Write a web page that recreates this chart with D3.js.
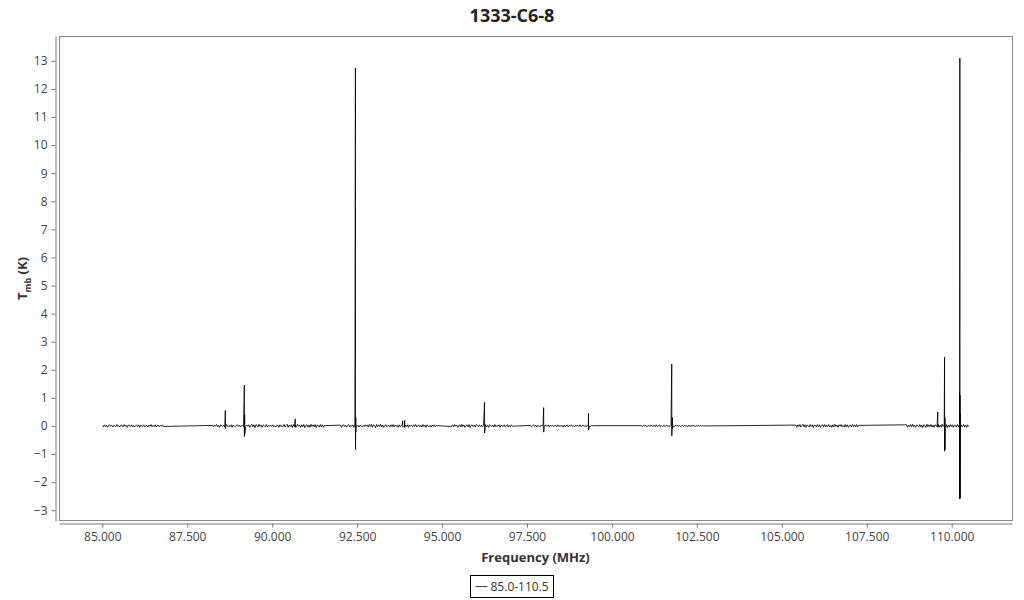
<!DOCTYPE html>
<html>
<head>
<meta charset="utf-8">
<script src="https://cdn.jsdelivr.net/npm/d3@7"></script>
<style>
  body { margin: 0; background: #fff; }
  text { font-family: "Open Sans", sans-serif; }
</style>
</head>
<body>
<div id="chart"></div>
<script>
// observed ranges (MHz) of the eight spectral windows
var segStarts = [85.0, 88.24, 92.01, 95.28, 97.60, 100.87, 105.41, 108.67];
var segEnds   = [86.80, 91.57, 94.86, 97.07, 99.43, 102.70, 107.26, 110.50];

// baseline noise per channel, in units of 0.01 K
var noise1 = [1,-3,4,-2,3,-5,2,4,-1,3,-4,2,0,-3,5,-2,1,-4,3,2,-3,5,-1,2,-5,3,1,-2,4,-3,2,-4,1,3,-2,4,-5,3,0,-2,4,-3,1,2,-4,3,-1,5,-3,2,-2,4,-4,1,3,-3,2,-1,4,-2];
var noise2 = [2,-4,3,-1,5,-3,2,-5,4,1,-2,3,-4,2,5,-3,1,-2,4,-5,3,0,-3,2,4,-1,3,-4,1,2,-3,5,-2,3,-1,4,-5,2,6,-3,4,-6,5,2,-4,6,-2,3,-5,4,1,-3,5,-4,2,-1,3,-2,4,-3,1,-4,2,3,-5,4,-2,1,-3,5,-4,2,6,-5,3,-2,4,-6,5,-3,2,-4,6,-1,3,-5,4,-3,5,-6,2,4,-4,3,-5,6,-2,4,-3,5,-6,3,2,-4,5,-3,4,-5,2,1];
var noise3 = [3,-5,2,4,-2,3,-4,1,5,-3,2,-1,4,-5,3,0,-2,3,-4,2,1,-3,2,-2,4,-1,3,-4,5,-2,6,-5,4,2,-6,5,-3,4,-2,6,-4,3,-5,2,4,-3,1,2,-3,4,-2,5,-4,3,-1,2,-5,4,-3,2,5,-4,1,3,-2,4,-5,3,-1,2,-3,4,-2,5,-4,1,3,-3,2,-4,5,-2,3,-5,4,1,-3,2,-4,3,-1,4,-3,2,1];
var noise4 = [-2,4,-3,5,-1,3,-5,2,4,-4,6,-2,3,-5,1,4,-3,5,-6,2,4,-2,3,-4,5,1,-3,4,-2,2,-4,3,-1,5,-3,2,-5,4,1,-2,3,-4,5,-3,2,-1,4,-5,3,0,-2,4,-3,1,5,-4,2,-3,4,-1];
var noise5 = [2,-3,1,4,-2,3,-4,2,0,-3,3,-1,2,-4,3,1,-2,4,-3,2,-1,3,-2,1,2,-3,4,-2,1,-1,2,-4,3,-2,1,3,-3,2,-1,4,-2,1,-3,3,-1,2,-2,4,-3,1,3,-2,2,-4,1,3,-1,-2,2,1];
var noise6 = [1,-2,3,-1,2,-3,1,2,-2,3,-1,0,2,-3,4,-2,1,3,-2,1,-3,2,0,-1,3,-2,1,-2,2,-1,1,-3,2,-1,3,-2,2,-3,1,2,-2,3,-1,1,-2,3,-3,2,-1,1,2,-3,1,-1,3,-2,2,-1,1,0];
var noise7 = [3,-5,4,-2,5,-4,2,6,-3,4,-5,3,1,-4,5,-2,4,-6,3,2,-4,5,-3,4,-5,2,4,-3,5,-4,3,-2,5,-4,2,-5,4,-3,6,-2,3,-5,4,-1,5,-3,2,-4,5,-3,4,-5,2,3,-4,5,-2,4,-3,5,-4,2];
var noise8 = [4,-5,3,-2,5,-4,6,-3,2,-5,4,1,-3,5,-4,3,-6,4,2,-5,6,-3,4,-2,5,-4,3,-5,4,2,-3,5,-4,3,-5,6,-2,4,-3,5,-6,3,-4,5,-2,4,-5,3,2,-4,5,-3,4,-6,3,-2,5,-4,3,-5,4,-2];
var noiseSets = [noise1, noise2, noise3, noise4, noise5, noise6, noise7, noise8];

// emission lines: frequency (MHz), peak and dip (K)
var lineFreq = [88.62, 89.18, 89.19, 90.68, 92.45, 92.46, 93.84, 93.90, 96.25, 97.99, 99.31, 101.76, 101.78, 109.59, 109.79, 109.80, 110.23, 110.24, 110.245, 110.25];
var linePeak = [0.55, 1.45, 0.4, 0.25, 12.75, 0.3, 0.18, 0.2, 0.85, 0.65, 0.45, 2.2, 0.3, 0.5, 2.45, 0.3, 1.2, 13.1, 1.1, 0.45];
var lineDip  = [-0.1, -0.38, -0.3, -0.05, -0.85, -0.2, -0.03, -0.05, -0.25, -0.22, -0.15, -0.35, -0.1, -0.05, -0.9, -0.85, -2.6, -2.6, -2.55, -0.1];

var legendLabel = "85.0-110.5";
var yTicks = d3.range(-3, 14);
var xTicks = [85, 87.5, 90, 92.5, 95, 97.5, 100, 102.5, 105, 107.5, 110];

var W = 1024, H = 600;
var plot = {left: 59, right: 1012, top: 36, bottom: 521};

var svg = d3.select("#chart").append("svg")
    .attr("width", W)
    .attr("height", H);

var x = d3.scaleLinear().domain([83.725, 111.775]).range([plot.left, plot.right]);
var y = d3.scaleLinear().domain([-3.385, 13.885]).range([plot.bottom, plot.top]);

// build spectrum points
var pts = [];
segStarts.forEach(function (s, i) {
    var vals = noiseSets[i];
    var step = (segEnds[i] - s) / (vals.length - 1);
    vals.forEach(function (v, j) {
        pts.push([s + j * step, v / 100]);
    });
});
lineFreq.forEach(function (f, i) {
    pts.push([f, linePeak[i]]);
    pts.push([f + 0.002, lineDip[i]]);
});
pts.sort(function (a, b) { return a[0] - b[0]; });

// frame
svg.append("rect")
    .attr("x", plot.left + 0.5)
    .attr("y", plot.top + 0.5)
    .attr("width", plot.right - plot.left)
    .attr("height", plot.bottom - plot.top - 1)
    .attr("fill", "none")
    .attr("stroke", "#8a8a8a");

// axes
var yAxis = svg.append("g")
    .attr("transform", "translate(" + (plot.left - 3.5) + ",0)")
    .call(d3.axisLeft(y).tickValues(yTicks).tickSize(4).tickSizeOuter(0).tickPadding(4));
var xAxis = svg.append("g")
    .attr("transform", "translate(0," + (plot.bottom + 2.5) + ")")
    .call(d3.axisBottom(x).tickValues(xTicks).tickSize(4).tickSizeOuter(0).tickPadding(5)
        .tickFormat(d3.format(".3f")));
[yAxis, xAxis].forEach(function (g) {
    g.selectAll(".domain").attr("stroke", "#777");
    g.selectAll(".tick line").attr("stroke", "#777");
    g.selectAll(".tick text").attr("fill", "#444").style("font-size", "12px")
        .style("font-family", "'Open Sans', sans-serif");
});

// spectrum
var line = d3.line()
    .x(function (d) { return x(d[0]); })
    .y(function (d) { return y(d[1]); });
svg.append("path")
    .datum(pts)
    .attr("d", line)
    .attr("fill", "none")
    .attr("stroke", "#000")
    .attr("stroke-width", 0.85);

// title
svg.append("text")
    .attr("x", W / 2)
    .attr("y", 22)
    .attr("text-anchor", "middle")
    .style("font-size", "18px")
    .style("font-weight", "bold")
    .attr("fill", "#222")
    .text("1333-C6-8");

svg.append("text")
    .attr("x", (plot.left + plot.right) / 2)
    .attr("y", 562)
    .attr("text-anchor", "middle")
    .style("font-size", "13px")
    .style("font-weight", "bold")
    .attr("fill", "#333")
    .text("Frequency (MHz)");

var yl = svg.append("text")
    .attr("transform", "translate(27," + ((plot.top + plot.bottom) / 2) + ") rotate(-90)")
    .attr("text-anchor", "middle")
    .style("font-size", "13px")
    .style("font-weight", "bold")
    .attr("fill", "#333");
yl.append("tspan").text("T");
yl.append("tspan").attr("dy", 4).style("font-size", "9px").text("mb");
yl.append("tspan").attr("dy", -4).text(" (K)");

// legend
var lg = svg.append("g").attr("transform", "translate(470.5,575.5)");
lg.append("rect").attr("width", 83).attr("height", 22)
    .attr("fill", "#fff").attr("stroke", "#000");
lg.append("line").attr("x1", 5).attr("x2", 17).attr("y1", 11).attr("y2", 11)
    .attr("stroke", "#444");
lg.append("text").attr("x", 20).attr("y", 15.5)
    .style("font-size", "12px").attr("fill", "#333").text(legendLabel);
</script>
</body>
</html>
